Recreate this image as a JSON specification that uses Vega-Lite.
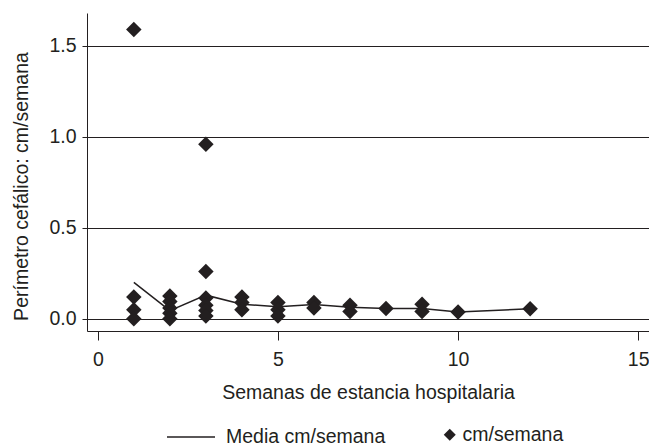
{
  "$schema": "https://vega.github.io/schema/vega-lite/v6.json",
  "width": 562,
  "height": 318,
  "autosize": "none",
  "padding": {"left": 87, "top": 13, "right": 0, "bottom": 117},
  "background": "white",
  "config": {
    "view": {"stroke": null},
    "font": "Liberation Sans",
    "axis": {
      "labelFont": "Liberation Sans",
      "titleFont": "Liberation Sans",
      "labelFontSize": 19.5,
      "titleFontSize": 19.5,
      "titleFontWeight": "normal",
      "labelColor": "#231f20",
      "titleColor": "#231f20",
      "domainColor": "#231f20",
      "tickColor": "#231f20",
      "gridColor": "#231f20",
      "domainWidth": 1,
      "tickWidth": 1,
      "gridWidth": 1,
      "gridOpacity": 1
    },
    "legend": {
      "labelFont": "Liberation Sans",
      "labelFontSize": 19.5,
      "labelColor": "#231f20",
      "padding": 0
    }
  },
  "datasets": {
    "media": [
      {"semana": 1, "valor": 0.2, "serie": "Media cm/semana"},
      {"semana": 2, "valor": 0.045, "serie": "Media cm/semana"},
      {"semana": 3, "valor": 0.13, "serie": "Media cm/semana"},
      {"semana": 4, "valor": 0.08, "serie": "Media cm/semana"},
      {"semana": 5, "valor": 0.066, "serie": "Media cm/semana"},
      {"semana": 6, "valor": 0.079, "serie": "Media cm/semana"},
      {"semana": 7, "valor": 0.064, "serie": "Media cm/semana"},
      {"semana": 8, "valor": 0.057, "serie": "Media cm/semana"},
      {"semana": 9, "valor": 0.057, "serie": "Media cm/semana"},
      {"semana": 10, "valor": 0.038, "serie": "Media cm/semana"},
      {"semana": 12, "valor": 0.055, "serie": "Media cm/semana"}
    ],
    "puntos": [
      {"semana": 1, "valor": 1.59, "serie": "cm/semana"},
      {"semana": 1, "valor": 0.12, "serie": "cm/semana"},
      {"semana": 1, "valor": 0.05, "serie": "cm/semana"},
      {"semana": 1, "valor": 0.0, "serie": "cm/semana"},
      {"semana": 2, "valor": 0.125, "serie": "cm/semana"},
      {"semana": 2, "valor": 0.095, "serie": "cm/semana"},
      {"semana": 2, "valor": 0.06, "serie": "cm/semana"},
      {"semana": 2, "valor": 0.03, "serie": "cm/semana"},
      {"semana": 2, "valor": 0.0, "serie": "cm/semana"},
      {"semana": 3, "valor": 0.96, "serie": "cm/semana"},
      {"semana": 3, "valor": 0.26, "serie": "cm/semana"},
      {"semana": 3, "valor": 0.115, "serie": "cm/semana"},
      {"semana": 3, "valor": 0.075, "serie": "cm/semana"},
      {"semana": 3, "valor": 0.045, "serie": "cm/semana"},
      {"semana": 3, "valor": 0.015, "serie": "cm/semana"},
      {"semana": 4, "valor": 0.12, "serie": "cm/semana"},
      {"semana": 4, "valor": 0.09, "serie": "cm/semana"},
      {"semana": 4, "valor": 0.05, "serie": "cm/semana"},
      {"semana": 5, "valor": 0.09, "serie": "cm/semana"},
      {"semana": 5, "valor": 0.05, "serie": "cm/semana"},
      {"semana": 5, "valor": 0.015, "serie": "cm/semana"},
      {"semana": 6, "valor": 0.09, "serie": "cm/semana"},
      {"semana": 6, "valor": 0.06, "serie": "cm/semana"},
      {"semana": 7, "valor": 0.075, "serie": "cm/semana"},
      {"semana": 7, "valor": 0.04, "serie": "cm/semana"},
      {"semana": 8, "valor": 0.057, "serie": "cm/semana"},
      {"semana": 9, "valor": 0.08, "serie": "cm/semana"},
      {"semana": 9, "valor": 0.04, "serie": "cm/semana"},
      {"semana": 10, "valor": 0.038, "serie": "cm/semana"},
      {"semana": 12, "valor": 0.055, "serie": "cm/semana"}
    ]
  },
  "layer": [
    {
      "data": {"name": "media"},
      "mark": {"type": "line", "strokeWidth": 1.5},
      "encoding": {
        "x": {
          "field": "semana", "type": "quantitative",
          "scale": {"domain": [-0.3, 15.3], "nice": false, "zero": false},
          "axis": {
            "title": "Semanas de estancia hospitalaria",
            "values": [0, 5, 10, 15],
            "grid": false,
            "tickSize": 9,
            "labelPadding": 10,
            "titlePadding": 15,
            "labelFlush": false
          }
        },
        "y": {
          "field": "valor", "type": "quantitative",
          "scale": {"domain": [-0.067, 1.681], "nice": false, "zero": false},
          "axis": {
            "title": "Perímetro cefálico: cm/semana",
            "values": [0, 0.5, 1, 1.5],
            "format": ".1f",
            "grid": true,
            "tickSize": 5,
            "labelPadding": 6,
            "titleX": -66,
            "titleY": 173,
            "titleAngle": -90,
            "titleAlign": "center",
            "titleBaseline": "middle",
            "labelFlush": false
          }
        },
        "color": {
          "field": "serie", "type": "nominal",
          "scale": {"range": ["#231f20"]},
          "legend": {
            "title": null,
            "orient": "none",
            "legendX": 79,
            "legendY": 399,
            "symbolType": "stroke",
            "symbolSize": 2304,
            "symbolStrokeWidth": 1.5,
            "symbolStrokeColor": "#231f20",
            "labelOffset": 10
          }
        }
      }
    },
    {
      "data": {"name": "puntos"},
      "mark": {"type": "point", "filled": true, "size": 240, "opacity": 1, "color": "#231f20"},
      "encoding": {
        "x": {"field": "semana", "type": "quantitative"},
        "y": {"field": "valor", "type": "quantitative"},
        "shape": {
          "field": "serie", "type": "nominal",
          "scale": {"range": ["diamond"]},
          "legend": {
            "title": null,
            "orient": "none",
            "legendX": 353,
            "legendY": 412,
            "symbolSize": 144,
            "symbolFillColor": "#231f20",
            "symbolStrokeWidth": 0,
            "labelOffset": 3
          }
        }
      }
    }
  ]
}
